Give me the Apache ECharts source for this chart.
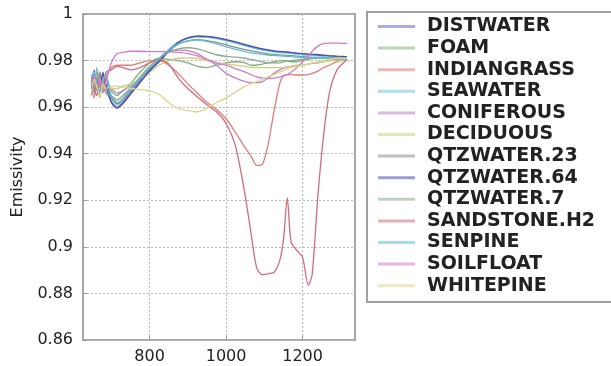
<!DOCTYPE html>
<html>
<head>
<meta charset="utf-8">
<script src="https://cdn.jsdelivr.net/npm/echarts@6/dist/echarts.min.js"></script>
<style>
  html, body { margin: 0; padding: 0; background: #fff; }
  #chart { width: 611px; height: 366px; }
</style>
</head>
<body>
<div id="chart"></div>
<script>
// wavenumber (cm-1)
var wn = [648, 655, 662, 670, 678, 686, 700, 715, 730, 750, 775, 800, 825, 850, 875, 900, 925, 950, 975, 1000,
          1025, 1050, 1065, 1080, 1095, 1110, 1125, 1140, 1150, 1160, 1170, 1185, 1200, 1215, 1225, 1240, 1255, 1270, 1290, 1316];

var names = ['DISTWATER', 'FOAM', 'INDIANGRASS', 'SEAWATER', 'CONIFEROUS', 'DECIDUOUS', 'QTZWATER.23',
             'QTZWATER.64', 'QTZWATER.7', 'SANDSTONE.H2', 'SENPINE', 'SOILFLOAT', 'WHITEPINE'];

var distwater = [0.970, 0.976, 0.968, 0.975, 0.967, 0.970, 0.9625, 0.960, 0.962, 0.966, 0.971, 0.976, 0.980, 0.9845, 0.988, 0.9898, 0.9905, 0.9903, 0.9897, 0.9888,
                 0.9878, 0.9866, 0.986, 0.9853, 0.9848, 0.9844, 0.984, 0.9837, 0.9836, 0.9835, 0.9833, 0.983, 0.9828, 0.9826, 0.9825, 0.9823, 0.9821, 0.9819, 0.9817, 0.9815];
var foam = [0.971, 0.966, 0.973, 0.969, 0.967, 0.972, 0.967, 0.965, 0.967, 0.970, 0.975, 0.979, 0.981, 0.9805, 0.980, 0.979, 0.9775, 0.977, 0.978, 0.979,
            0.9795, 0.979, 0.978, 0.978, 0.9785, 0.979, 0.9795, 0.980, 0.980, 0.9798, 0.9795, 0.9795, 0.980, 0.9805, 0.981, 0.981, 0.981, 0.981, 0.981, 0.981];
var indiangrass = [0.969, 0.964, 0.971, 0.975, 0.967, 0.973, 0.977, 0.978, 0.978, 0.978, 0.979, 0.980, 0.980, 0.978, 0.9745, 0.970, 0.966, 0.962, 0.959, 0.955,
                   0.949, 0.9425, 0.939, 0.935, 0.9355, 0.944, 0.958, 0.970, 0.9735, 0.974, 0.974, 0.9738, 0.9738, 0.974, 0.9745, 0.9755, 0.977, 0.978, 0.9795, 0.9805];
var seawater = [0.974, 0.966, 0.977, 0.970, 0.973, 0.966, 0.964, 0.961, 0.963, 0.967, 0.972, 0.977, 0.9808, 0.9848, 0.988, 0.9895, 0.9901, 0.99, 0.9894, 0.9885,
                0.9875, 0.9863, 0.9857, 0.985, 0.9845, 0.9841, 0.9837, 0.9834, 0.9833, 0.9832, 0.983, 0.9828, 0.9825, 0.9823, 0.9822, 0.982, 0.9818, 0.9816, 0.9814, 0.9812];
var coniferous = [0.972, 0.968, 0.965, 0.971, 0.974, 0.969, 0.968, 0.966, 0.967, 0.969, 0.972, 0.976, 0.980, 0.9835, 0.9845, 0.9843, 0.983, 0.9805, 0.978, 0.9745,
                  0.9725, 0.971, 0.9705, 0.9705, 0.971, 0.9725, 0.9745, 0.976, 0.9768, 0.9772, 0.9775, 0.9778, 0.978, 0.9785, 0.9788, 0.979, 0.9795, 0.980, 0.9805, 0.981];
var deciduous = [0.967, 0.973, 0.969, 0.964, 0.970, 0.966, 0.968, 0.968, 0.969, 0.970, 0.972, 0.975, 0.978, 0.980, 0.981, 0.9812, 0.981, 0.980, 0.979, 0.9785,
                 0.978, 0.9775, 0.977, 0.977, 0.977, 0.977, 0.977, 0.977, 0.977, 0.9772, 0.9775, 0.978, 0.978, 0.9785, 0.979, 0.979, 0.9795, 0.980, 0.980, 0.9805];
var qtz23 = [0.965, 0.972, 0.967, 0.974, 0.969, 0.972, 0.964, 0.9615, 0.963, 0.967, 0.972, 0.9765, 0.980, 0.984, 0.987, 0.9885, 0.989, 0.9886, 0.9878, 0.9868,
             0.9857, 0.9847, 0.9842, 0.9837, 0.9833, 0.9829, 0.9826, 0.9824, 0.9823, 0.9822, 0.9821, 0.9819, 0.9817, 0.9815, 0.9814, 0.9813, 0.9812, 0.9811, 0.981, 0.9809];
var qtz64 = [0.968, 0.973, 0.971, 0.966, 0.975, 0.969, 0.962, 0.9595, 0.9615, 0.9655, 0.9705, 0.9755, 0.9795, 0.984, 0.9877, 0.9897, 0.9905, 0.9904, 0.9899, 0.989,
             0.988, 0.9868, 0.9862, 0.9856, 0.985, 0.9846, 0.9842, 0.9839, 0.9838, 0.9837, 0.9835, 0.9832, 0.983, 0.9828, 0.9827, 0.9825, 0.9823, 0.9821, 0.9819, 0.9817];
var qtz7 = [0.967, 0.970, 0.975, 0.968, 0.971, 0.966, 0.965, 0.963, 0.965, 0.968, 0.973, 0.9775, 0.981, 0.9835, 0.985, 0.9855, 0.985, 0.9838, 0.9825, 0.9818,
            0.9815, 0.981, 0.9805, 0.980, 0.9795, 0.979, 0.979, 0.979, 0.9795, 0.980, 0.980, 0.9803, 0.9805, 0.9808, 0.981, 0.981, 0.981, 0.981, 0.981, 0.981];
var sandstone = [0.973, 0.968, 0.965, 0.972, 0.969, 0.975, 0.976, 0.9775, 0.977, 0.976, 0.977, 0.979, 0.9805, 0.9785, 0.9725, 0.968, 0.9645, 0.961, 0.958, 0.953,
                 0.943, 0.922, 0.906, 0.891, 0.888, 0.8885, 0.889, 0.894, 0.903, 0.921, 0.902, 0.8985, 0.8955, 0.8835, 0.888, 0.922, 0.948, 0.966, 0.976, 0.9805];
var senpine = [0.969, 0.975, 0.970, 0.966, 0.972, 0.974, 0.965, 0.962, 0.964, 0.968, 0.9725, 0.977, 0.981, 0.9845, 0.9872, 0.9885, 0.9888, 0.9882, 0.9872, 0.986,
               0.9848, 0.9838, 0.9833, 0.983, 0.9827, 0.9824, 0.9822, 0.982, 0.9819, 0.9818, 0.9817, 0.9815, 0.9814, 0.9813, 0.9812, 0.9811, 0.981, 0.9809, 0.9808, 0.9807];
var soilfloat = [0.970, 0.974, 0.968, 0.972, 0.966, 0.971, 0.979, 0.983, 0.9835, 0.984, 0.984, 0.9838, 0.9838, 0.9838, 0.9835, 0.983, 0.982, 0.9805, 0.979, 0.978,
                 0.9765, 0.975, 0.974, 0.973, 0.9725, 0.9723, 0.9725, 0.973, 0.9735, 0.974, 0.975, 0.977, 0.9795, 0.982, 0.984, 0.9862, 0.9873, 0.9875, 0.9875, 0.9874];
var whitepine = [0.966, 0.972, 0.969, 0.965, 0.970, 0.968, 0.969, 0.969, 0.9685, 0.968, 0.9675, 0.967, 0.9655, 0.962, 0.9595, 0.9585, 0.958, 0.9595, 0.962, 0.964,
                 0.9665, 0.969, 0.970, 0.971, 0.972, 0.973, 0.974, 0.975, 0.9757, 0.9765, 0.977, 0.9775, 0.978, 0.9785, 0.979, 0.9795, 0.980, 0.9805, 0.981, 0.981];

var values = [distwater, foam, indiangrass, seawater, coniferous, deciduous, qtz23,
              qtz64, qtz7, sandstone, senpine, soilfloat, whitepine];

var colors = ['#6a6ad0', '#7fb07f', '#e07c7c', '#6cc8d4', '#c07fd0', '#cfcf7a', '#8c8c8c',
              '#4a4ab8', '#8fa88f', '#d26c7c', '#5cc0d0', '#d47cc8', '#d8d88c'];

var tickX = [800, 1000, 1200];

var chartDom = document.getElementById('chart');
var myChart = echarts.init(chartDom);

var series = names.map(function (n, k) {
  return {
    name: n,
    type: 'line',
    symbol: 'none',
    smooth: 0.25,
    lineStyle: { width: 1.3, color: colors[k] },
    itemStyle: { color: colors[k] },
    data: wn.map(function (x, i) { return [x, values[k][i]]; })
  };
});

var option = {
  backgroundColor: '#fff',
  animation: false,
  grid: {
    left: 83, right: 256, top: 14, bottom: 26,
    show: true, borderColor: '#a8a8a8', borderWidth: 2,
    outerBoundsMode: 'none'
  },
  legend: {
    orient: 'vertical',
    left: 378, top: 17,
    padding: 0,
    itemGap: 2.6,
    itemWidth: 37, itemHeight: 3,
    icon: 'rect',
    itemStyle: { opacity: 0.55 },
    textStyle: {
      fontFamily: 'DejaVu Sans', fontWeight: 'bold', fontSize: 19, color: '#222',
      padding: [0, 0, 0, 7]
    },
    data: names
  },
  graphic: [{
    type: 'rect',
    shape: { x: 367, y: 12, width: 260, height: 290 },
    style: { fill: 'none', stroke: '#a0a0a0', lineWidth: 2 }
  }],
  xAxis: {
    type: 'value',
    min: 626, max: 1337,
    axisLine: { show: false },
    axisTick: { inside: true, length: 4, customValues: tickX, lineStyle: { color: '#999' } },
    axisLabel: {
      customValues: tickX, fontFamily: 'DejaVu Sans', fontSize: 16, color: '#222', margin: 9,
      formatter: function (v) { return String(v); }
    },
    splitLine: { show: true, lineStyle: { type: [2, 2], color: '#bbb' } }
  },
  yAxis: {
    type: 'value',
    min: 0.86, max: 1, interval: 0.02,
    name: 'Emissivity',
    nameLocation: 'middle',
    nameGap: 57,
    nameTextStyle: { fontFamily: 'DejaVu Sans', fontSize: 16, color: '#222' },
    axisLine: { show: false },
    axisTick: { inside: true, length: 4, lineStyle: { color: '#999' } },
    axisLabel: { fontFamily: 'DejaVu Sans', fontSize: 16, color: '#222', margin: 10 },
    splitLine: { show: true, lineStyle: { type: [2, 2], color: '#bbb' } }
  },
  series: series
};

option && myChart.setOption(option);
</script>
</body>
</html>
